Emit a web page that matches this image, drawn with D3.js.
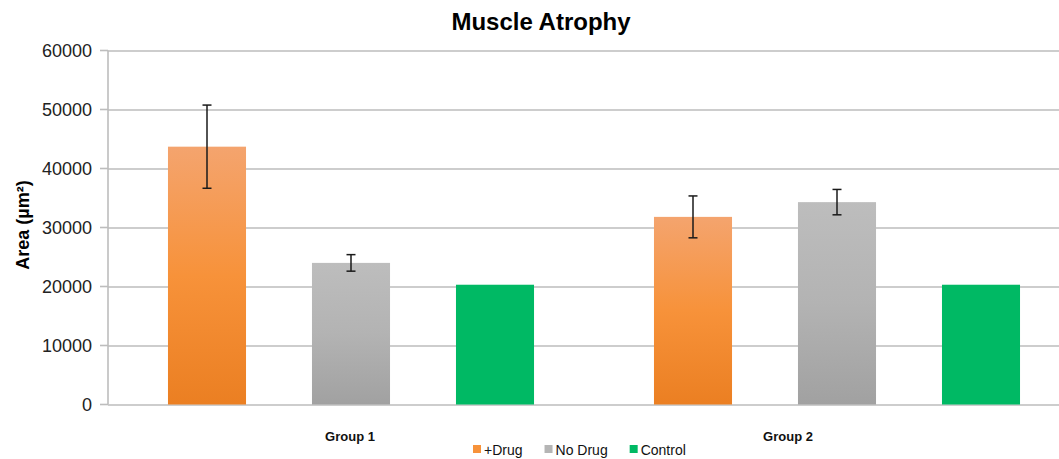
<!DOCTYPE html>
<html>
<head>
<meta charset="utf-8">
<title>Muscle Atrophy</title>
<script src="https://cdn.jsdelivr.net/npm/d3@7"></script>
<style>
    body { margin: 0; background: #fff; }
    text { font-family: "Liberation Sans", Arial, sans-serif; }
</style>
</head>
<body>
<div id="chart"></div>
<script>
    var groups = ['Group 1', 'Group 2'];
    var series = ['+Drug', 'No Drug', 'Control'];
    var drugValues = [43700, 31800];
    var drugErrors = [7050, 3550];
    var noDrugValues = [24000, 34300];
    var noDrugErrors = [1400, 2150];
    var controlValues = [20300, 20300];
    var controlErrors = [0, 0];
    var yTicks = [0, 10000, 20000, 30000, 40000, 50000, 60000];

    var seriesValues = [drugValues, noDrugValues, controlValues];
    var seriesErrors = [drugErrors, noDrugErrors, controlErrors];

    // flat rows for drawing
    var rows = [];
    groups.forEach((g, gi) => {
        series.forEach((s, si) => {
            rows.push({ group: g, series: s, value: seriesValues[si][gi], err: seriesErrors[si][gi] });
        });
    });

    var width = 1059, height = 459;
    var svg = d3.select('#chart').append('svg')
        .attr('width', width)
        .attr('height', height);

    var y = d3.scaleLinear().domain([0, 60000]).range([404.5, 50.5]);
    var x0 = d3.scaleBand().domain(groups).range([108, 1080]);
    var x1 = d3.scaleBand().domain(series).range([0, x0.bandwidth()])
        .paddingInner(0.458).paddingOuter(0.4165);

    // gradients
    var defs = svg.append('defs');
    var grads = {
        '+Drug': ['#f4a46e', '#f7923a', '#eb7f22'],
        'No Drug': ['#bdbdbd', '#b3b3b3', '#a1a1a1'],
        'Control': ['#00b964', '#00b964', '#00b964']
    };
    var swatch = { '+Drug': '#f7923a', 'No Drug': '#b5b5b5', 'Control': '#00b964' };
    series.forEach((s, i) => {
        var lg = defs.append('linearGradient').attr('id', 'g' + i)
            .attr('x1', 0).attr('y1', 0).attr('x2', 0).attr('y2', 1);
        lg.append('stop').attr('offset', '0%').attr('stop-color', grads[s][0]);
        lg.append('stop').attr('offset', '50%').attr('stop-color', grads[s][1]);
        lg.append('stop').attr('offset', '100%').attr('stop-color', grads[s][2]);
    });

    // gridlines
    svg.append('g')
        .attr('transform', 'translate(108,0)')
        .call(d3.axisLeft(y).tickValues(yTicks).tickSize(-(width - 108)).tickFormat(d3.format('d')).tickPadding(16))
        .call(g => g.select('.domain').remove())
        .call(g => g.selectAll('.tick line').attr('stroke', '#bdbdbd').attr('stroke-width', 1.6))
        .call(g => g.selectAll('.tick text').attr('fill', '#222').attr('font-size', 18)
            .attr('font-family', '"Liberation Sans", Arial, sans-serif'));

    // small outside ticks
    svg.append('g').selectAll('line').data(yTicks).join('line')
        .attr('x1', 100).attr('x2', 108)
        .attr('y1', d => y(d)).attr('y2', d => y(d))
        .attr('stroke', '#bdbdbd').attr('stroke-width', 1.6);

    // vertical axis line
    svg.append('line')
        .attr('x1', 108).attr('x2', 108)
        .attr('y1', y(60000)).attr('y2', y(0))
        .attr('stroke', '#bdbdbd').attr('stroke-width', 1.6);

    // bars
    svg.append('g').selectAll('rect').data(rows).join('rect')
        .attr('x', d => x0(d.group) + x1(d.series))
        .attr('y', d => y(d.value))
        .attr('width', x1.bandwidth())
        .attr('height', d => y(0) - y(d.value))
        .attr('fill', d => 'url(#g' + series.indexOf(d.series) + ')');

    // error bars
    var eb = svg.append('g').selectAll('g').data(rows.filter(d => d.err > 0)).join('g')
        .attr('stroke', '#1a1a1a').attr('stroke-width', 1.5);
    eb.append('line')
        .attr('x1', d => x0(d.group) + x1(d.series) + x1.bandwidth() / 2)
        .attr('x2', d => x0(d.group) + x1(d.series) + x1.bandwidth() / 2)
        .attr('y1', d => y(d.value + d.err))
        .attr('y2', d => y(d.value - d.err));
    [1, -1].forEach(sign => {
        eb.append('line')
            .attr('x1', d => x0(d.group) + x1(d.series) + x1.bandwidth() / 2 - 4.5)
            .attr('x2', d => x0(d.group) + x1(d.series) + x1.bandwidth() / 2 + 4.5)
            .attr('y1', d => y(d.value + sign * d.err))
            .attr('y2', d => y(d.value + sign * d.err));
    });

    // title
    svg.append('text')
        .attr('x', 541).attr('y', 30)
        .attr('text-anchor', 'middle')
        .attr('font-size', 24).attr('font-weight', 'bold')
        .attr('fill', '#000')
        .text('Muscle Atrophy');

    // y axis title
    svg.append('text')
        .attr('transform', 'translate(29,225) rotate(-90)')
        .attr('text-anchor', 'middle')
        .attr('font-size', 18).attr('font-weight', 'bold')
        .attr('fill', '#000')
        .text('Area (\u00b5m\u00b2)');

    // group labels
    var labelX = d3.scalePoint().domain(groups).range([350, 788]);
    svg.append('g').selectAll('text').data(groups).join('text')
        .attr('x', d => labelX(d)).attr('y', 441)
        .attr('text-anchor', 'middle')
        .attr('font-size', 13).attr('font-weight', 'bold')
        .attr('fill', '#111')
        .text(d => d);

    // legend
    var legend = svg.append('g').attr('transform', 'translate(473,0)');
    var lx = 0;
    series.forEach(s => {
        var item = legend.append('g').attr('transform', `translate(${lx},0)`);
        item.append('rect').attr('x', 0).attr('y', 445).attr('width', 8).attr('height', 8)
            .attr('fill', swatch[s]);
        var t = item.append('text').attr('x', 11).attr('y', 455)
            .attr('font-size', 14).attr('fill', '#111').text(s);
        lx += 11 + t.node().getComputedTextLength() + 22;
    });
</script>
</body>
</html>
